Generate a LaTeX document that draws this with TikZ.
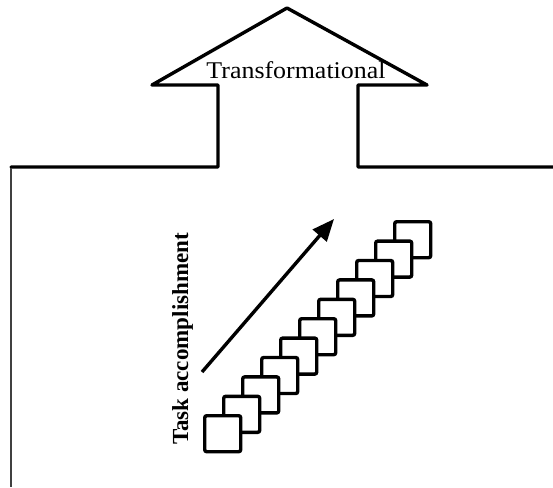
\documentclass[tikz,border=0pt]{standalone}
\usepackage{fontspec}
\setmainfont{Liberation Serif}
\usetikzlibrary{arrows.meta}
\tikzset{
  outline/.style={line width=3.4pt, line join=round, line cap=round},
  stepbox/.style={draw, line width=3.4pt, fill=white, rounded corners=2pt,
    minimum size=36pt, inner sep=0pt, anchor=north west},
  bigarrow/.style={line width=3.4pt, -{Triangle[length=22pt,width=18pt]}},
  labeltext/.style={inner sep=0pt, anchor=base},
}
\begin{document}
\begin{tikzpicture}[x=1pt,y=-1pt]
\useasboundingbox (0,0) rectangle (553,487);
% upward block arrow with ground line
\draw[outline] (11,167) -- (218,167) -- (218,85) -- (152,85) -- (287,8)
  -- (427,85) -- (358,85) -- (358,167) -- (553,167);
\node[labeltext] (transf) at (296,78)
  {\scalebox{1.08}[1]{\fontsize{24}{24}\selectfont Transformational}};
% left border line
\draw[line width=1.2pt, black!75] (11,168) -- (11,487);
% staircase of boxes (back to front)
\foreach \i in {10,...,0}{
  \node[stepbox] (b\i) at ({203+19*\i},{414-19.4*\i}) {};
}
% arrow
\coordinate (a0) at (202,372);
\coordinate (a1) at (334,219);
\draw[bigarrow] (a0) -- (a1);
% vertical label
\node[labeltext, rotate=90] (task) at (188,339)
  {\fontsize{23}{23}\selectfont\bfseries Task accomplishment};
\end{tikzpicture}
\end{document}
